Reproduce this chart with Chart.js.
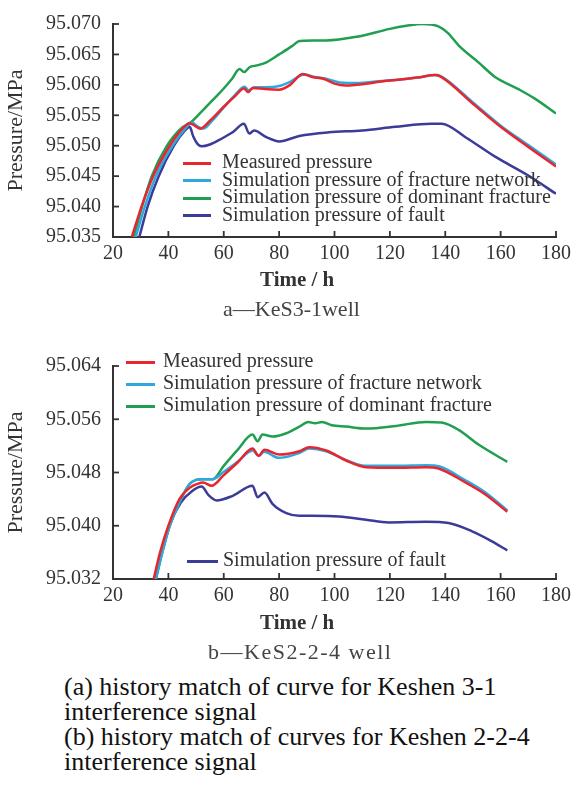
<!DOCTYPE html>
<html><head><meta charset="utf-8">
<script src="https://cdn.jsdelivr.net/npm/chart.js@4.4.1/dist/chart.umd.min.js"></script>
<style>
html,body{margin:0;padding:0;background:#fff;}
#page{position:relative;width:576px;height:802px;overflow:hidden;font-family:"Liberation Serif","Tinos","Times New Roman","Times","DejaVu Serif",serif;}
.cw{position:absolute;left:0;width:576px;height:282px;}
.t{position:absolute;white-space:nowrap;line-height:1;}
.lgline{position:absolute;height:3px;}
</style></head><body>
<div id="page">
 <div class="cw" style="top:0"><canvas id="ca"></canvas></div>
 <div class="cw" style="top:342px"><canvas id="cb"></canvas></div>
 <div class="t" style="left:260px;top:269px;font-size:21px;font-weight:bold;color:#333">Time / h</div>
 <div class="t" style="left:223px;top:298px;font-size:22px;color:#444">a—KeS3-1well</div>
 <div class="t" style="left:260px;top:612px;font-size:21px;font-weight:bold;color:#333">Time / h</div>
 <div class="t" style="left:208px;top:641px;font-size:22px;letter-spacing:1.5px;color:#444">b—KeS2-2-4 well</div>
 <div class="t" style="left:64px;top:674px;font-size:26px;line-height:25px;color:#111">(a) history match of curve for Keshen 3-1<br>interference signal<br>(b) history match of curves for Keshen 2-2-4<br>interference signal</div>
 <div id="legends"></div>
</div>
<script>
// ---- data ----
const seriesNames = ['Measured pressure','Simulation pressure of fracture network','Simulation pressure of dominant fracture','Simulation pressure of fault'];
const seriesColors = ['#e8262d','#2fa8df','#1f9f4f','#3b3b98'];
const timeTicks = [20,40,60,80,100,120,140,160,180];
const aPressureTicks = [95.035,95.040,95.045,95.050,95.055,95.060,95.065,95.070];
const bPressureTicks = [95.032,95.040,95.048,95.056,95.064];

// a — KeS3-1 well
const aMeasuredTime = [26.8,30.3,34.5,40.5,45.5,47.5,49.5,51.5,55,60,64,67.3,68.8,70.5,75,80,84,88.5,92,96,100,104,110,116,122,130,136.5,138.5,150,160,170,180];
const aMeasuredP = [95.0350,95.0400,95.0450,95.0500,95.0530,95.0537,95.0533,95.0528,95.0541,95.0564,95.0581,95.0594,95.0588,95.0595,95.0593,95.0592,95.0600,95.0618,95.0613,95.0610,95.0602,95.0599,95.0601,95.0605,95.0608,95.0612,95.0616,95.0613,95.0569,95.0531,95.0498,95.0466];
const aNetworkTime = [28.2,31.5,35.5,41.5,46.5,48.5,50.5,52.5,56,60,64,67.5,69,71,75,80,84,89,93,97,102,108,116,122,130,136.5,138.5,150,160,170,180];
const aNetworkP = [95.0350,95.0400,95.0450,95.0500,95.0530,95.0538,95.0532,95.0528,95.0542,95.0563,95.0583,95.0597,95.0591,95.0596,95.0596,95.0598,95.0605,95.0617,95.0613,95.0610,95.0604,95.0603,95.0606,95.0608,95.0612,95.0616,95.0614,95.0571,95.0533,95.0501,95.0469];
const aDominantTime = [27.5,30.5,34,39.5,45,48,52,56,60,63,65.7,67.4,69.3,72,75.4,80,84.8,87.3,92,97,108,120,126,131.5,137.5,141,144.8,152,158,166.4,172.5,180];
const aDominantP = [95.0350,95.0400,95.0450,95.0500,95.0530,95.0538,95.0556,95.0575,95.0594,95.0610,95.0626,95.0621,95.0629,95.0632,95.0637,95.0650,95.0664,95.0672,95.0673,95.0673,95.0679,95.0692,95.0697,95.0700,95.0696,95.0685,95.0665,95.0637,95.0613,95.0593,95.0577,95.0553];
const aFaultTime = [29.5,32.5,36.5,42,46,47.7,49,50.5,52,55,59,63.2,67.3,69.2,71,75.4,80,87.3,98,110,122,135,138.7,147.3,158,170,180];
const aFaultP = [95.0350,95.0400,95.0450,95.0500,95.0525,95.0531,95.0515,95.0503,95.0499,95.0502,95.0511,95.0522,95.0536,95.0520,95.0525,95.0514,95.0507,95.0516,95.0522,95.0525,95.0531,95.0536,95.0536,95.0514,95.0482,95.0451,95.0421];

// b — KeS2-2-4 well
const bMeasuredTime = [34.7,37,40,44,48,50.5,52.5,55.6,60,65,70.4,72.6,74.7,80,87.3,90.9,97,104.2,111.4,122.2,133,137.6,147.3,154.5,162.4];
const bMeasuredP = [95.0320,95.0360,95.0400,95.0440,95.0458,95.0463,95.0465,95.0460,95.0476,95.0495,95.0516,95.0505,95.0514,95.0507,95.0512,95.0518,95.0513,95.0498,95.0488,95.0487,95.0488,95.0486,95.0465,95.0447,95.0421];
const bNetworkTime = [35.5,37.8,40.5,44,47.5,50,52,56,60,65,70.5,72.6,74.5,80,87,91,97,104,111,122,133,138,147,154.5,162.4];
const bNetworkP = [95.0320,95.0360,95.0400,95.0435,95.0462,95.0469,95.0470,95.0470,95.0481,95.0496,95.0513,95.0505,95.0511,95.0502,95.0509,95.0516,95.0512,95.0499,95.0490,95.0490,95.0491,95.0489,95.0469,95.0450,95.0423];
const bDominantTime = [35.5,37.8,40.5,44,47.5,50,52,56,60,65,70.4,72.2,74,77.6,82.6,87.3,90.5,93,95.5,99,104.2,111.4,122.2,133,138.7,144.8,152,162.4];
const bDominantP = [95.0320,95.0360,95.0400,95.0435,95.0462,95.0469,95.0470,95.0470,95.0490,95.0514,95.0537,95.0527,95.0537,95.0534,95.0539,95.0549,95.0556,95.0554,95.0556,95.0551,95.0549,95.0546,95.0550,95.0556,95.0555,95.0544,95.0522,95.0496];
const bFaultTime = [35.3,37.5,40.3,44.5,48.5,52,54.5,57.4,63.2,70.4,72.2,74.7,77.6,82.6,87.3,92,101.6,111.4,119.6,133,141.2,149.5,156.7,162.4];
const bFaultP = [95.0320,95.0360,95.0400,95.0435,95.0452,95.0459,95.0446,95.0438,95.0445,95.0460,95.0443,95.0450,95.0433,95.0419,95.0415,95.0415,95.0414,95.0409,95.0405,95.0406,95.0404,95.0392,95.0377,95.0363];

// ---- drawing ----
const AXIS = '#333';
const SERIF = '"Liberation Serif", Tinos, "Times New Roman", Times, "DejaVu Serif", serif';
const inwardTicks = {
  id:'inwardTicks',
  afterDraw(chart){
    const {ctx, chartArea, scales:{x,y}} = chart;
    ctx.save(); ctx.strokeStyle = AXIS; ctx.lineWidth = 1.8;
    x.ticks.forEach(t=>{const px=x.getPixelForValue(t.value); ctx.beginPath(); ctx.moveTo(px,chartArea.bottom); ctx.lineTo(px,chartArea.bottom-6); ctx.stroke();});
    y.ticks.forEach(t=>{const py=y.getPixelForValue(t.value); ctx.beginPath(); ctx.moveTo(chartArea.left,py); ctx.lineTo(chartArea.left+6,py); ctx.stroke();});
    ctx.restore();
  }
};
function makeChart(id, times, pressures, yTicks){
  const datasets = times.map((t,k)=>({
    label: seriesNames[k],
    data: t.map((v,i)=>({x:v, y:pressures[k][i]})),
    borderColor: seriesColors[k], backgroundColor: seriesColors[k],
    borderWidth: 2.5, pointRadius: 0, fill:false, cubicInterpolationMode:'monotone'
  }));
  return new Chart(document.getElementById(id), {
    type:'line',
    data:{datasets},
    options:{
      responsive:true, maintainAspectRatio:false, animation:false,
      layout:{padding:{left:0,right:18,top:15,bottom:0}},
      plugins:{legend:{display:false}, tooltip:{enabled:false}},
      scales:{
        x:{type:'linear', min:timeTicks[0], max:timeTicks[timeTicks.length-1],
          afterBuildTicks:s=>{s.ticks=timeTicks.map(v=>({value:v}));},
          afterFit:s=>{s.height=45;},
          grid:{display:false, drawTicks:false},
          border:{display:true, color:AXIS, width:2},
          ticks:{color:AXIS, font:{family:SERIF, size:20}, padding:5, autoSkip:false, maxRotation:0, callback:v=>String(v)}},
        y:{type:'linear', min:yTicks[0], max:yTicks[yTicks.length-1],
          afterBuildTicks:s=>{s.ticks=yTicks.map(v=>({value:v}));},
          afterFit:s=>{s.width=113;},
          grid:{display:false, drawTicks:false},
          border:{display:true, color:AXIS, width:2},
          ticks:{color:AXIS, font:{family:SERIF, size:20}, padding:12, autoSkip:false, callback:v=>Number(v).toFixed(3)},
          title:{display:true, text:'Pressure/MPa', color:AXIS, font:{family:SERIF, size:22, lineHeight:1}, padding:{top:5,bottom:0}}}
      }
    },
    plugins:[inwardTicks]
  });
}
makeChart('ca',[aMeasuredTime,aNetworkTime,aDominantTime,aFaultTime],[aMeasuredP,aNetworkP,aDominantP,aFaultP],aPressureTicks);
makeChart('cb',[bMeasuredTime,bNetworkTime,bDominantTime,bFaultTime],[bMeasuredP,bNetworkP,bDominantP,bFaultP],bPressureTicks);

// legends (positions of the legend boxes inside each plot)
const legendRows = [
  {k:0, cy:163, x0:183, x1:211, tx:222},
  {k:1, cy:180.5, x0:183, x1:211, tx:222},
  {k:2, cy:198, x0:183, x1:211, tx:222},
  {k:3, cy:215.5, x0:183, x1:211, tx:222},
  {k:0, cy:362, x0:126, x1:155, tx:163},
  {k:1, cy:384, x0:126, x1:155, tx:163},
  {k:2, cy:406, x0:126, x1:155, tx:163},
  {k:3, cy:561, x0:187, x1:218, tx:223}
];
const lg = document.getElementById('legends');
legendRows.forEach(r=>{
  const l = document.createElement('div'); l.className='lgline';
  l.style.left=r.x0+'px'; l.style.width=(r.x1-r.x0)+'px'; l.style.top=(r.cy-1.5)+'px'; l.style.background=seriesColors[r.k];
  lg.appendChild(l);
  const t = document.createElement('div'); t.className='t';
  t.style.left=r.tx+'px'; t.style.top=(r.cy-12)+'px'; t.style.fontSize='20px'; t.style.color='#333';
  t.textContent = seriesNames[r.k];
  lg.appendChild(t);
});
</script>
</body></html>
